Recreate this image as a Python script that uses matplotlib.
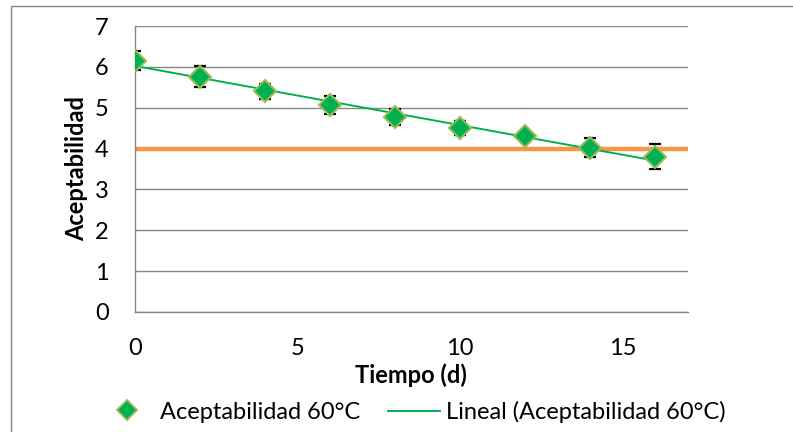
import numpy as np
import matplotlib.pyplot as plt
from matplotlib.patches import Rectangle
from matplotlib.lines import Line2D

plt.rcParams['font.family'] = ['Lato', 'DejaVu Sans']

dias = [0, 2, 4, 6, 8, 10, 12, 14, 16]
aceptabilidad = [6.15, 5.76, 5.40, 5.07, 4.77, 4.50, 4.30, 4.02, 3.80]
error = [0.23, 0.25, 0.18, 0.22, 0.20, 0.18, 0.10, 0.23, 0.30]
limite = 4

verde = '#00B050'
borde_verde = '#9BBB59'
naranja = '#F79646'
gris = '#868686'
fs = 17

fig = plt.figure(figsize=(7.93, 4.32), dpi=100)
ax = fig.add_axes([0.1702, 0.2778, 0.6968, 0.662])

# marco exterior del grafico
fig.patches.append(Rectangle((11 / 793, -0.1), 1.2, 1 - 6 / 432 + 0.1,
                             transform=fig.transFigure, fill=False,
                             edgecolor=gris, linewidth=1.0))

ax.axhline(limite, color=naranja, linewidth=3.2, zorder=2)

# tendencia lineal
m, b = np.polyfit(dias, aceptabilidad, 1)
xs = np.array([dias[0], dias[-1]])
ax.plot(xs, m * xs + b, color=verde, linewidth=1.4, zorder=3)

ax.errorbar(dias, aceptabilidad, yerr=error, fmt='none', ecolor='black',
            elinewidth=1.2, capsize=4, capthick=1.6, zorder=4)
ax.plot(dias, aceptabilidad, linestyle='none', marker='D', markersize=11,
        markerfacecolor=verde, markeredgecolor=borde_verde,
        markeredgewidth=1.5, zorder=5)

ax.set_xlim(0, 17)
ax.set_ylim(0, 7)
ax.set_xticks([0, 5, 10, 15])
ax.set_yticks(range(0, 8))
ax.yaxis.grid(True, color=gris, linewidth=1.0)
ax.set_axisbelow(True)
for lado in ['top', 'right']:
    ax.spines[lado].set_visible(False)
for lado in ['left', 'bottom']:
    ax.spines[lado].set_color(gris)
    ax.spines[lado].set_linewidth(1.0)
ax.tick_params(axis='both', length=0, labelsize=fs)
ax.tick_params(axis='x', pad=19)
ax.tick_params(axis='y', pad=19)

ax.set_xlabel('Tiempo (d)', fontsize=fs, fontweight='bold', labelpad=3)
ax.set_ylabel('Aceptabilidad', fontsize=fs, fontweight='bold', labelpad=5)

# leyenda en dos partes
h_punto = Line2D([], [], linestyle='none', marker='D', markersize=10,
                 markerfacecolor=verde, markeredgecolor=borde_verde,
                 markeredgewidth=1.3)
h_linea = Line2D([], [], color=verde, linewidth=1.4)
fig.legend([h_punto], ['Aceptabilidad 60°C'], loc='center left',
           bbox_to_anchor=(0.145, 0.046), frameon=False, fontsize=fs,
           handlelength=1.0, handletextpad=0.9, borderpad=0, borderaxespad=0)
fig.legend([h_linea], ['Lineal (Aceptabilidad 60°C)'], loc='center left',
           bbox_to_anchor=(0.489, 0.046), frameon=False, fontsize=fs,
           handlelength=2.2, handletextpad=0.25, borderpad=0, borderaxespad=0)

fig.savefig('out.png', dpi=100)
